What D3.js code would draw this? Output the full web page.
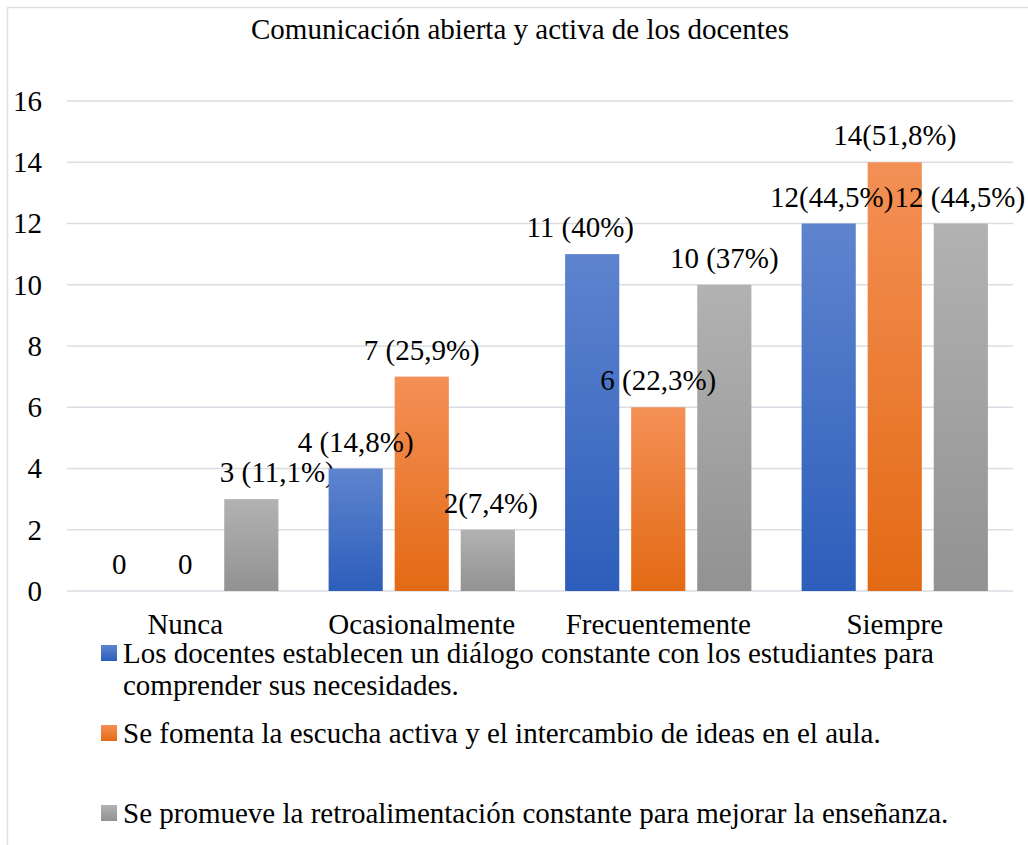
<!DOCTYPE html>
<html>
<head>
<meta charset="utf-8">
<script src="https://cdn.jsdelivr.net/npm/d3@7"></script>
<style>
  body { margin: 0; background: #fff; }
  svg text { font-family: "Liberation Serif", "Times New Roman", serif; fill: #000; }
</style>
</head>
<body>
<div id="chart"></div>
<script>
// Chart data
var categories = ["Nunca", "Ocasionalmente", "Frecuentemente", "Siempre"];
var seriesNames = [
    "Los docentes establecen un diálogo constante con los estudiantes para comprender sus necesidades.",
    "Se fomenta la escucha activa y el intercambio de ideas en el aula.",
    "Se promueve la retroalimentación constante para mejorar la enseñanza."
];
var dialogo = [0, 4, 11, 12];
var escucha = [0, 7, 6, 14];
var retro = [3, 2, 10, 12];
var dialogoLabels = ["0", "4 (14,8%)", "11 (40%)", "12(44,5%)"];
var escuchaLabels = ["0", "7 (25,9%)", "6 (22,3%)", "14(51,8%)"];
var retroLabels = ["3 (11,1%)", "2(7,4%)", "10 (37%)", "12 (44,5%)"];
var yTicks = [0, 2, 4, 6, 8, 10, 12, 14, 16];
var title = "Comunicación abierta y activa de los docentes";

var series = [
    {name: seriesNames[0], values: dialogo, labels: dialogoLabels},
    {name: seriesNames[1], values: escucha, labels: escuchaLabels},
    {name: seriesNames[2], values: retro, labels: retroLabels}
];

// Layout
var width = 1028, height = 845;
var margin = {top: 101, left: 67, right: 15, bottom: 254};
var fontSize = 29;
var colors = [
    {top: "#5E84CE", bottom: "#2D5EBB"},
    {top: "#F49056", bottom: "#E36A14"},
    {top: "#B2B2B2", bottom: "#929292"}
];
// small label nudges, like the hand-moved labels of the original
var labelNudge = [[0, 0, -12, 3], [0, 0, 0, 0], [26, 3, 0, -1]];

var svg = d3.select("#chart").append("svg")
    .attr("width", width)
    .attr("height", height);

// gradients for bars
var defs = svg.append("defs");
colors.forEach(function(c, i) {
    var g = defs.append("linearGradient")
        .attr("id", "grad" + i)
        .attr("x1", 0).attr("y1", 0).attr("x2", 0).attr("y2", 1);
    g.append("stop").attr("offset", "0%").attr("stop-color", c.top);
    g.append("stop").attr("offset", "100%").attr("stop-color", c.bottom);
});

// outer frame (left and top edges are visible)
svg.append("path")
    .attr("d", "M7.5," + height + "V7.5H" + width)
    .attr("fill", "none")
    .attr("stroke", "#dde2e8")
    .attr("stroke-width", 1.5);

var plotW = width - margin.left - margin.right;
var plotH = height - margin.top - margin.bottom;

var x0 = d3.scaleBand()
    .domain(categories)
    .range([margin.left, margin.left + plotW])
    .paddingInner(0)
    .paddingOuter(0);

var x1 = d3.scaleBand()
    .domain([0, 1, 2])
    .range([0, x0.bandwidth()])
    .paddingInner(0.18)
    .paddingOuter(0.38);

var y = d3.scaleLinear()
    .domain([0, 16])
    .range([margin.top + plotH, margin.top]);

// title
svg.append("text")
    .attr("x", 520)
    .attr("y", 39)
    .attr("text-anchor", "middle")
    .style("font-size", fontSize + "px")
    .text(title);

// gridlines
svg.append("g")
    .attr("class", "grid")
    .selectAll("line")
    .data(yTicks)
    .enter()
    .append("line")
    .attr("x1", margin.left)
    .attr("x2", margin.left + plotW)
    .attr("y1", function(d) { return y(d); })
    .attr("y2", function(d) { return y(d); })
    .attr("stroke", "#d9dde3")
    .attr("stroke-width", 1.5);

// y axis labels
var yAxis = d3.axisLeft(y).tickValues(yTicks).tickSize(0).tickPadding(0);
var yAxisG = svg.append("g")
    .attr("transform", "translate(42,0)")
    .call(yAxis);
yAxisG.select(".domain").remove();
yAxisG.selectAll("text")
    .style("font-size", fontSize + "px")
    .style("font-family", "'Liberation Serif', serif");

// x axis labels
var xAxis = d3.axisBottom(x0).tickSize(0).tickPadding(0);
var xAxisG = svg.append("g")
    .attr("transform", "translate(0," + (y(0) + 22) + ")")
    .call(xAxis);
xAxisG.select(".domain").remove();
xAxisG.selectAll("text")
    .style("font-size", fontSize + "px")
    .style("font-family", "'Liberation Serif', serif");

// bars
var groups = svg.append("g").selectAll("g")
    .data(categories)
    .enter()
    .append("g")
    .attr("transform", function(d) { return "translate(" + x0(d) + ",0)"; });

groups.selectAll("rect")
    .data(function(d, ci) {
        return series.map(function(s, si) { return {si: si, v: s.values[ci]}; });
    })
    .enter()
    .append("rect")
    .attr("x", function(d) { return x1(d.si); })
    .attr("width", x1.bandwidth())
    .attr("y", function(d) { return y(d.v); })
    .attr("height", function(d) { return y(0) - y(d.v); })
    .attr("fill", function(d) { return "url(#grad" + d.si + ")"; });

// data labels
groups.selectAll("text.lbl")
    .data(function(d, ci) {
        return series.map(function(s, si) {
            return {si: si, ci: ci, v: s.values[ci], label: s.labels[ci]};
        });
    })
    .enter()
    .append("text")
    .attr("class", "lbl")
    .attr("x", function(d) { return x1(d.si) + x1.bandwidth() / 2 + labelNudge[d.si][d.ci]; })
    .attr("y", function(d) { return y(d.v) - 17; })
    .attr("text-anchor", "middle")
    .style("font-size", fontSize + "px")
    .text(function(d) { return d.label; });

// legend
var legendRows = [
    {si: 0, lines: ["Los docentes establecen un diálogo constante con los estudiantes para", "comprender sus necesidades."], y: 663},
    {si: 1, lines: [seriesNames[1]], y: 743},
    {si: 2, lines: [seriesNames[2]], y: 823}
];

var legend = svg.append("g").attr("class", "legend");
legendRows.forEach(function(r) {
    legend.append("rect")
        .attr("x", 101)
        .attr("y", r.y - 18)
        .attr("width", 16)
        .attr("height", 16)
        .attr("fill", "url(#grad" + r.si + ")");
    var t = legend.append("text")
        .attr("x", 123)
        .attr("y", r.y)
        .style("font-size", fontSize + "px");
    r.lines.forEach(function(line, i) {
        t.append("tspan")
            .attr("x", 123)
            .attr("dy", i === 0 ? 0 : 32)
            .text(line);
    });
});
</script>
</body>
</html>
